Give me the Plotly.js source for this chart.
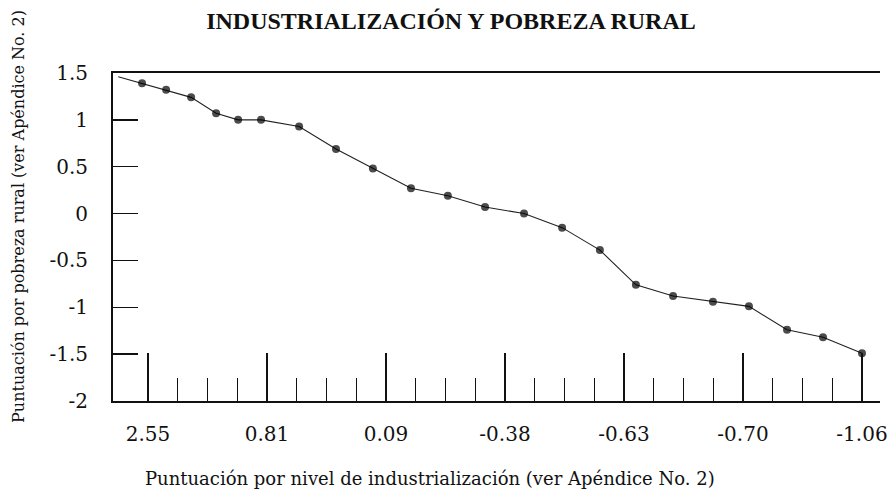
<!DOCTYPE html>
<html>
<head>
<meta charset="utf-8">
<script src="https://cdn.plot.ly/plotly-3.0.1.min.js"></script>
<style>
  html, body { margin: 0; padding: 0; background: #ffffff; }
  #chart { width: 893px; height: 490px; }
</style>
</head>
<body>
<div id="chart"></div>
<script>
// Position of each observation along the industrialization ordering (axis units: one minor tick = 1)
const xPos = [-1.0, -0.2, 0.61, 1.45, 2.29, 3.03, 3.8, 5.08, 6.32, 7.56, 8.84, 10.08,
              11.33, 12.64, 13.92, 15.19, 16.4, 17.65, 18.99, 20.2, 21.48, 22.69, 24.0];
// Rural poverty score of each observation
const povertyScore = [1.46, 1.39, 1.32, 1.24, 1.07, 1.0, 1.0, 0.93, 0.69, 0.48, 0.27, 0.19,
                      0.07, 0.0, -0.15, -0.39, -0.76, -0.88, -0.94, -0.99, -1.24, -1.32, -1.49];
// Industrialization score labels shown at the major ticks
const tickLabels = ['2.55', '0.81', '0.09', '-0.38', '-0.63', '-0.70', '-1.06'];
const tickPositions = [0, 4, 8, 12, 16, 20, 24];
const minorPositions = [];
for (let i = 0; i <= 24; i++) { if (i % 4 !== 0) minorPositions.push(i); }

const markerSizes = xPos.map((v, i) => (i === 0 ? 0 : 8));

const trace = {
  type: 'scatter',
  mode: 'lines+markers',
  x: xPos,
  y: povertyScore,
  line: { color: '#222', width: 1.1 },
  marker: { color: '#000', size: markerSizes, line: { width: 0 } },
  cliponaxis: false,
  hoverinfo: 'x+y'
};

const serif = 'DejaVu Serif, serif';

const layout = {
  width: 893,
  height: 490,
  margin: { l: 113, r: 13, t: 73, b: 89 },
  paper_bgcolor: '#ffffff',
  plot_bgcolor: '#ffffff',
  showlegend: false,
  title: {
    text: '<b>INDUSTRIALIZACIÓN Y POBREZA RURAL</b>',
    font: { family: 'Liberation Serif, serif', size: 24, color: '#111' },
    x: 0.505, xanchor: 'center', xref: 'container',
    y: 0.958, yanchor: 'middle', yref: 'container'
  },
  xaxis: {
    range: [-1.176, 24.605],
    tickmode: 'array',
    tickvals: tickPositions,
    ticktext: tickLabels,
    ticks: 'inside',
    ticklen: 48,
    tickwidth: 1.5,
    tickcolor: '#111',
    minor: { tickmode: 'array', tickvals: minorPositions, ticks: 'inside', ticklen: 23, tickwidth: 1.3, tickcolor: '#111' },
    showline: true,
    linecolor: '#111',
    linewidth: 2,
    mirror: true,
    showgrid: false,
    zeroline: false,
    ticklabelstandoff: 14,
    tickfont: { family: serif, size: 20, color: '#111' }
  },
  yaxis: {
    range: [-2, 1.5],
    tickmode: 'array',
    tickvals: [-2, -1.5, -1, -0.5, 0, 0.5, 1, 1.5],
    ticktext: ['-2', '-1.5', '-1', '-0.5', '0', '0.5', '1', '1.5'],
    ticks: 'inside',
    ticklen: 25,
    tickwidth: 1.5,
    tickcolor: '#111',
    showline: true,
    linecolor: '#111',
    linewidth: 2,
    showgrid: false,
    zeroline: false,
    ticklabelstandoff: 19,
    tickfont: { family: serif, size: 20, color: '#111' }
  },
  annotations: [
    {
      text: 'Puntuación por nivel de industrialización (ver Apéndice No. 2)',
      xref: 'paper', yref: 'paper',
      x: 0.413, y: -0.235, xanchor: 'center', yanchor: 'middle',
      showarrow: false,
      font: { family: serif, size: 18, color: '#111' }
    },
    {
      text: 'Puntuación por pobreza rural (ver Apéndice No. 2)',
      xref: 'paper', yref: 'paper',
      x: -0.124, y: 0.564, xanchor: 'center', yanchor: 'middle',
      textangle: -90,
      showarrow: false,
      font: { family: serif, size: 16, color: '#111' }
    }
  ]
};

Plotly.newPlot('chart', [trace], layout, { displayModeBar: false, staticPlot: true });
</script>
</body>
</html>
